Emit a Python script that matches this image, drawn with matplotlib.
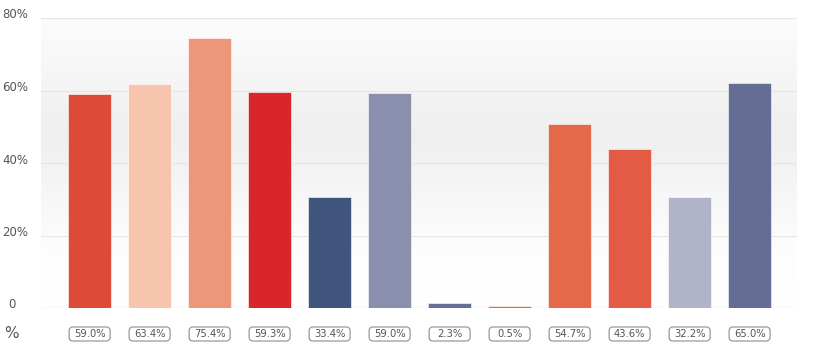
import numpy as np
import matplotlib.pyplot as plt
from matplotlib.colors import LinearSegmentedColormap
from matplotlib.patches import FancyBboxPatch
from matplotlib.transforms import Affine2D

# bar heights as drawn (percent) and the values printed in the boxes below
heights = [59.0, 61.8, 74.5, 59.6, 30.7, 59.2, 1.4, 0.6, 50.8, 43.8, 30.7, 62.0]
labels = ['59.0%', '63.4%', '75.4%', '59.3%', '33.4%', '59.0%',
          '2.3%', '0.5%', '54.7%', '43.6%', '32.2%', '65.0%']
colors = ['#DE4A38', '#F7C4AE', '#EC967A', '#DA262B', '#3F557E', '#8A8FAE',
          '#646E96', '#E86A4C', '#E4694B', '#E35A45', '#B1B3C9', '#646E94']
yticks = [0, 20, 40, 60, 80]
ytick_labels = ['0', '20%', '40%', '60%', '80%']

W, H = 818, 360
fig = plt.figure(figsize=(W / 100, H / 100), dpi=100)
ax = fig.add_axes([41 / W, 52 / H, 756 / W, 290 / H])

x = np.arange(len(heights))
ax.set_xlim(-0.81, 11.79)
ax.set_ylim(0, 80)

# soft vertical gradient background
cmap = LinearSegmentedColormap.from_list('bg', [(0, '#ffffff'), (0.2, '#fdfdfd'),
                                                (0.6, '#efefef'), (1, '#fcfcfc')])
grad = np.linspace(0, 1, 256).reshape(-1, 1)
ax.imshow(grad, aspect='auto', cmap=cmap, extent=(-0.81, 11.79, 0, 80),
          origin='lower', zorder=0)

for y in yticks[1:]:
    ax.axhline(y, color='#e6e6e6', lw=0.8, zorder=1)
ax.axhline(0, color='#e0e0e0', lw=1, zorder=1)

ax.bar(x, heights, width=0.72, color=colors, edgecolor='white', linewidth=0.4, zorder=2)

for s in ax.spines.values():
    s.set_visible(False)
ax.set_xticks([])
ax.set_yticks([])

# pixel coordinates (origin bottom-left)
px = Affine2D().scale(1 / W, 1 / H) + fig.transFigure

# y labels, left aligned at figure edge
for y, t in zip(yticks, ytick_labels):
    xp = 2 if t != '0' else 8
    fig.text(xp / W, (52 + y * 290 / 80 + 3) / H, t, ha='left', va='center',
             fontsize=8.5, color='#555555')

fig.text(4 / W, 26 / H, '%', ha='left', va='center', fontsize=11, color='#555555')

# fixed-size rounded value boxes under each bar
box_w, box_h, box_cy = 41, 14, H - 334
for xi, t in zip(x, labels):
    cx = ax.transData.transform((xi, 0))[0]
    fig.patches.append(FancyBboxPatch((cx - box_w / 2, box_cy - box_h / 2), box_w, box_h,
                                      boxstyle='round,pad=0,rounding_size=4',
                                      fc='white', ec='#9a9a9a', lw=0.9, transform=px))
    fig.text(cx / W, box_cy / H, t, ha='center', va='center',
             fontsize=7.2, color='#555555')

fig.savefig('out.png', dpi=100)
